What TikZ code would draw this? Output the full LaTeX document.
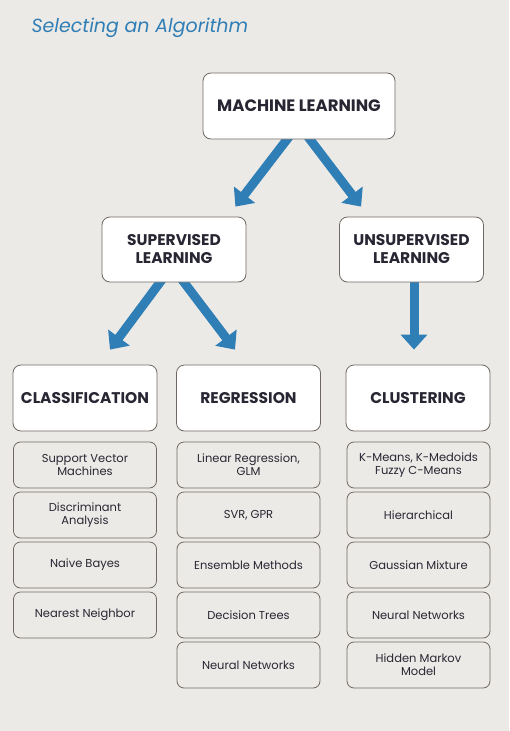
\documentclass[tikz,border=0pt]{standalone}
\usepackage{fontspec}
\setmainfont{Poppins}
\usetikzlibrary{arrows.meta}
\definecolor{paper}{RGB}{236,234,230}
\definecolor{mlblue}{RGB}{47,126,182}
\definecolor{ink}{RGB}{40,38,50}
\definecolor{rim}{RGB}{112,104,100}
\pgfdeclarelayer{back}
\pgfsetlayers{back,main}
\begin{document}
\begin{tikzpicture}[x=1pt, y=-1pt,
    box/.style={draw=rim, fill=white, line width=0.8pt, rounded corners=8pt, text=ink,
        align=center, inner sep=0pt, minimum width=144pt, minimum height=65pt,
        font=\fontsize{15.5}{18}\selectfont\bfseries},
    algo/.style={draw=rim, line width=0.8pt, rounded corners=7pt, text=ink,
        align=center, inner sep=0pt, minimum width=143pt, minimum height=46pt,
        font=\fontsize{11.5}{13}\selectfont},
    fat/.style={draw=mlblue, line width=9pt, -{Triangle[width=26pt,length=15pt]}}]
    \node[anchor=base west, text=mlblue, font=\fontsize{19}{22}\selectfont\itshape] (title) at (28,32) {Selecting an Algorithm};
    % top levels
    \node[box, minimum width=192pt, minimum height=66pt, font=\fontsize{16.5}{19}\selectfont\bfseries] (ml) at (299,106) {MACHINE LEARNING};
    \node[box] (sup) at (174,249.5) {SUPERVISED\\LEARNING};
    \node[box] (uns) at (411.5,249.5) {UNSUPERVISED\\LEARNING};
    \node[box, minimum height=66pt] (cls) at (85,398) {CLASSIFICATION};
    \node[box, minimum height=66pt] (reg) at (248.5,398) {REGRESSION};
    \node[box, minimum height=66pt] (clu) at (418,398) {CLUSTERING};
    % algorithms
    \foreach \t [count=\i] in {{Support Vector\\Machines},{Discriminant\\Analysis},Naive Bayes,Nearest Neighbor}
        \node[algo] (c\i) at (85,415+50*\i) {\t};
    \foreach \t [count=\i] in {{Linear Regression,\\GLM},{SVR, GPR},Ensemble Methods,Decision Trees,Neural Networks}
        \node[algo] (r\i) at (248.5,415+50*\i) {\t};
    \foreach \t [count=\i] in {{K-Means, K-Medoids\\Fuzzy C-Means},Hierarchical,Gaussian Mixture,Neural Networks,{Hidden Markov\\Model}}
        \node[algo] (u\i) at (418.5,415+50*\i) {\t};
    % arrows
    \begin{pgfonlayer}{back}
    \fill[paper] (0,0) rectangle (509,731);
    \draw[fat]([xshift=-7.4pt,yshift=6pt]ml.south)--([xshift=-11pt,yshift=10pt]sup.north east);
    \draw[fat]([xshift=6.4pt,yshift=6pt]ml.south)--([xshift=22pt,yshift=10pt]uns.north west);
    \draw[fat]([xshift=-9.6pt,yshift=6pt]sup.south)--([xshift=25pt,yshift=15pt]cls.north);
    \draw[fat]([xshift=5.5pt,yshift=6pt]sup.south)--([xshift=-13.5pt,yshift=15pt]reg.north);
    \draw[fat]([xshift=2.5pt,yshift=6pt]uns.south)--([xshift=-4pt,yshift=15pt]clu.north);
    \end{pgfonlayer}
\end{tikzpicture}
\end{document}
